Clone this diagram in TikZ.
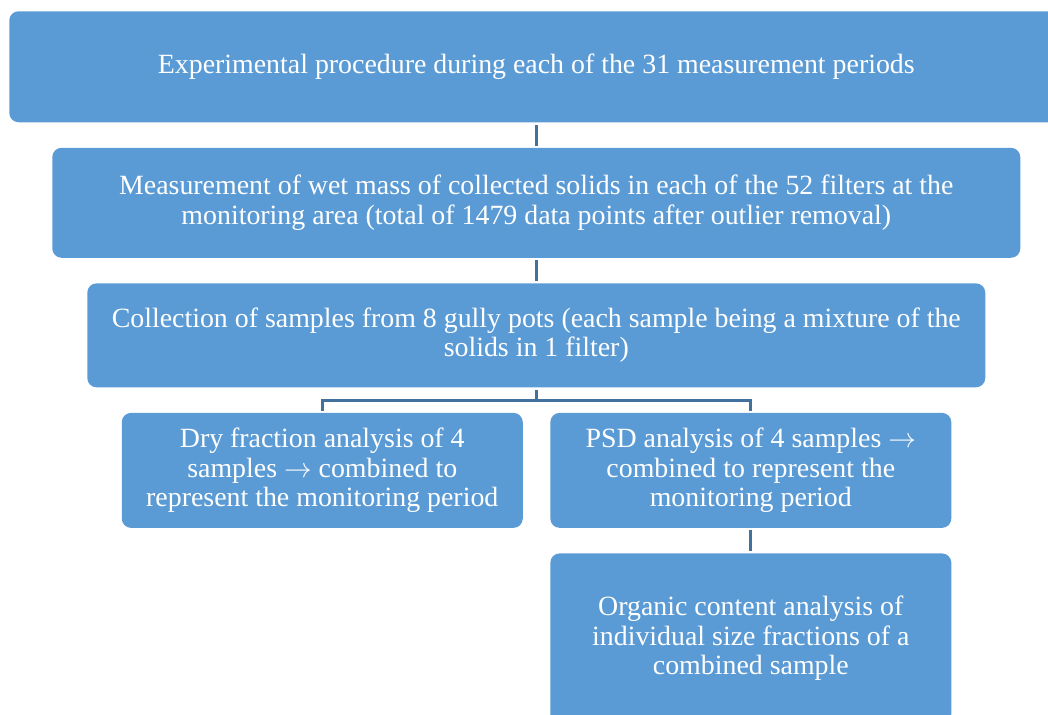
\documentclass[tikz,border=0pt]{standalone}
\usepackage{fontspec}
\setmainfont{Liberation Serif}
\usetikzlibrary{positioning}
\definecolor{boxblue}{HTML}{5B9BD5}
\definecolor{linkblue}{HTML}{41719C}

\begin{document}
\begin{tikzpicture}[
    node distance=18.75pt and 20.25pt,
    stepbox/.style={fill=boxblue,draw=none,rounded corners=7pt,text=white,align=center,
        font=\fontsize{20.9}{22}\selectfont,inner sep=4pt},
    link/.style={draw=linkblue,line width=2.1pt}
]
\useasboundingbox (0,0) rectangle (786pt,-535.5pt);
\node[stepbox,minimum width=790.5pt,minimum height=83.25pt,anchor=north west] (periods) at (6.75pt,-8.25pt)
    {Experimental procedure during each of the 31 measurement periods};
\node[stepbox,minimum width=726pt,minimum height=82.5pt,below=of periods] (wetmass)
    {Measurement of wet mass of collected solids in each of the 52 filters at the\\monitoring area (total of 1479 data points after outlier removal)};
\node[stepbox,minimum width=673.5pt,minimum height=78pt,below=of wetmass] (samples)
    {Collection of samples from 8 gully pots (each sample being a mixture of the\\solids in 1 filter)};
\node[stepbox,minimum width=300.75pt,minimum height=86.25pt,below=of samples,xshift=-160.5pt] (dryfrac)
    {Dry fraction analysis of 4\\samples $\rightarrow$ combined to\\represent the monitoring period};
\node[stepbox,minimum width=300.75pt,minimum height=86.25pt,right=of dryfrac] (psd)
    {PSD analysis of 4 samples $\rightarrow$\\combined to represent the\\monitoring period};
\node[stepbox,minimum width=300.75pt,minimum height=127.5pt,below=of psd] (organic)
    {Organic content analysis of\\individual size fractions of a\\combined sample};
% connectors
\draw[link] ([yshift=-1.5pt]periods.south -| wetmass.north) -- ([yshift=1.5pt]wetmass.north);
\draw[link] ([yshift=-1.5pt]wetmass.south) -- ([yshift=1.5pt]samples.north);
\coordinate (split) at ([yshift=-9.5pt]samples.south);
\draw[link] ([yshift=-1.5pt]samples.south) -- (split);
\draw[link] ([yshift=1.5pt]dryfrac.north) |- (split) -| ([yshift=1.5pt]psd.north);
\draw[link] ([yshift=-1.5pt]psd.south) -- ([yshift=1.5pt]organic.north);
\end{tikzpicture}
\end{document}
